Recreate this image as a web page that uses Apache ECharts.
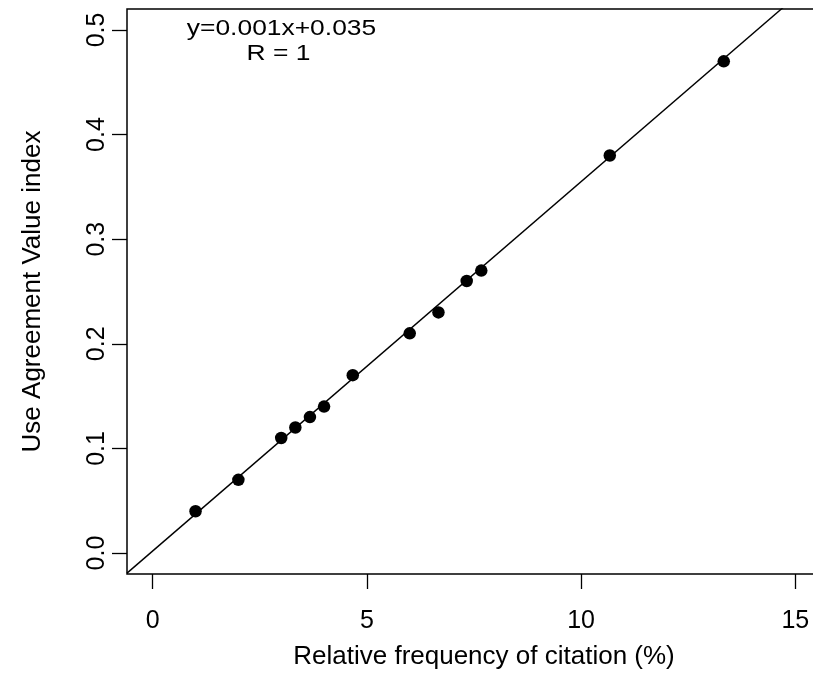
<!DOCTYPE html>
<html>
<head>
<meta charset="utf-8">
<script src="https://cdn.jsdelivr.net/npm/echarts@6/dist/echarts.min.js"></script>
<style>
html,body{margin:0;padding:0;background:#fff;}
#chart{width:813px;height:676px;}
</style>
</head>
<body>
<div id="chart"></div>
<script>
// Data
const citationPct = [1, 2, 3, 3.33, 3.67, 4, 4.67, 6, 6.67, 7.33, 7.67, 10.67, 13.33];
const uvIndex     = [0.04, 0.07, 0.11, 0.12, 0.13, 0.14, 0.17, 0.21, 0.23, 0.26, 0.27, 0.38, 0.47];
const xTicks = [0, 5, 10, 15];
const yTicks = [0, 0.1, 0.2, 0.3, 0.4, 0.5];
const xRange = [-0.6, 15.6];
const yRange = [-0.02, 0.52];
// fitted line as drawn in the picture
const fitSlope = 0.0353;
const fitIntercept = 0.002;
const eqLine1 = 'y=0.001x+0.035';
const eqLine2 = 'R = 1';
const xTitle = 'Relative frequency of citation (%)';
const yTitle = 'Use Agreement Value index';

const points = citationPct.map((x, i) => [x, uvIndex[i]]);
const fitLine = xRange.map(x => [x, fitSlope * x + fitIntercept]);

const FONT = '"Liberation Sans", Arial, Helvetica, sans-serif';
const chart = echarts.init(document.getElementById('chart'), null, {renderer: 'canvas'});
chart.setOption({
  backgroundColor: '#fff',
  animation: false,
  grid: {
    left: 127, top: 9, bottom: 102, right: -8,
    outerBoundsMode: 'none', containLabel: false,
    show: true, borderColor: '#000', borderWidth: 1.5, backgroundColor: 'transparent'
  },
  xAxis: {
    type: 'value', min: xRange[0], max: xRange[1],
    axisLine: {show: false, onZero: false},
    axisTick: {show: true, inside: false, length: 15, customValues: xTicks, lineStyle: {color: '#000', width: 1.3}},
    axisLabel: {show: true, customValues: xTicks, margin: 35, color: '#000', fontSize: 25, fontFamily: FONT},
    splitLine: {show: false},
    name: xTitle, nameLocation: 'middle', nameGap: 70,
    nameTextStyle: {color: '#000', fontSize: 26, fontFamily: FONT, padding: [0, 0, 0, 20]}
  },
  yAxis: {
    type: 'value', min: yRange[0], max: yRange[1],
    axisLine: {show: false, onZero: false},
    axisTick: {show: true, inside: false, length: 15, customValues: yTicks, lineStyle: {color: '#000', width: 1.3}},
    axisLabel: {show: true, customValues: yTicks, rotate: 90, margin: 17, color: '#000', fontSize: 25, fontFamily: FONT,
      formatter: v => Number(v).toFixed(1)},
    splitLine: {show: false},
    name: yTitle, nameLocation: 'middle', nameGap: 81, nameRotate: 90,
    nameTextStyle: {color: '#000', fontSize: 26, fontFamily: FONT}
  },
  series: [
    {
      type: 'line', data: fitLine, symbol: 'none', clip: true,
      lineStyle: {color: '#000', width: 1.4}, silent: true, z: 2
    },
    {
      type: 'scatter', data: points, symbol: 'circle', symbolSize: 12.5,
      itemStyle: {color: '#000', opacity: 1}, z: 3
    }
  ],
  graphic: [
    {type: 'text', x: 281.5, y: 29, scaleX: 1.2, z: 10,
      style: {text: eqLine1, fill: '#000', font: '22px ' + FONT, textAlign: 'center', textVerticalAlign: 'middle'}},
    {type: 'text', x: 278.5, y: 53.5, scaleX: 1.2, z: 10,
      style: {text: eqLine2, fill: '#000', font: '22px ' + FONT, textAlign: 'center', textVerticalAlign: 'middle'}}
  ]
});
</script>
</body>
</html>
